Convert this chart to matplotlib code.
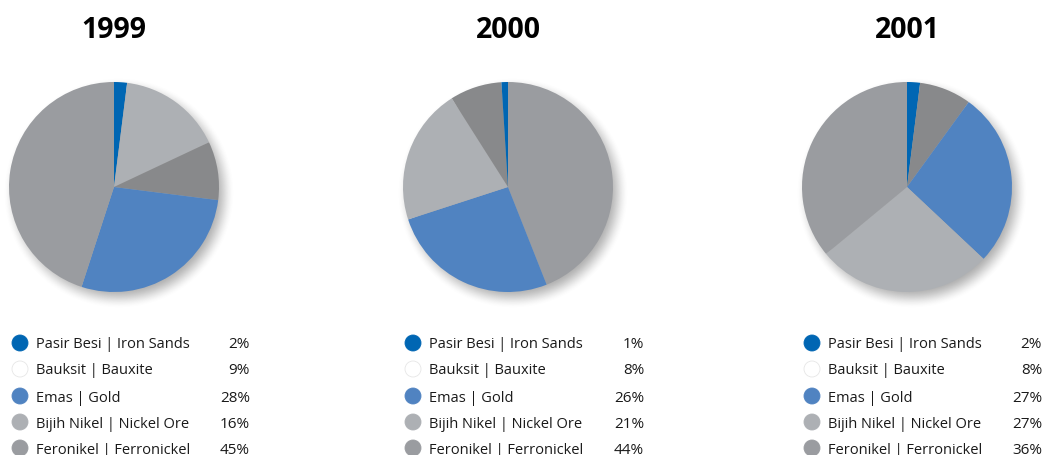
import numpy as np
import matplotlib
matplotlib.use("Agg")
import matplotlib.pyplot as plt
from matplotlib.patches import Circle

plt.rcParams['font.family'] = ['Open Sans', 'DejaVu Sans']

years = ['1999', '2000', '2001']
labels = ['Pasir Besi | Iron Sands', 'Bauksit | Bauxite', 'Emas | Gold',
          'Bijih Nikel | Nickel Ore', 'Feronikel | Ferronickel']
share_1999 = [2, 9, 28, 16, 45]
share_2000 = [1, 8, 26, 21, 44]
share_2001 = [2, 8, 27, 27, 36]
shares = [share_1999, share_2000, share_2001]

# clockwise wedge order from 12 o'clock, as indices into labels
wedge_order = [[0, 3, 1, 2, 4], [4, 2, 3, 1, 0], [0, 1, 2, 3, 4]]

slice_colors = ['#0066b3', '#88898b', '#5083c1', '#adb0b4', '#9a9ca0']
legend_colors = ['#0066b3', '#ffffff', '#5083c1', '#adb0b4', '#9a9ca0']

W, H = 1045, 455
fig = plt.figure(figsize=(W / 100, H / 100), dpi=100)
ax = fig.add_axes([0, 0, 1, 1])

centers_x = [114, 508, 907]
center_y = H - 187
radius = 105
legend_x = [20, 413, 812]
pct_x = [250, 644, 1042]
row_y = [343, 369, 396, 422, 448]


def soft_shadow(ax, cx, cy, r):
    # blurred disc offset down-right
    n = 300
    ext = r + 35
    xs = np.linspace(cx - ext, cx + ext, n)
    ys = np.linspace(cy - ext, cy + ext, n)
    gx, gy = np.meshgrid(xs, ys)
    d = np.hypot(gx - (cx + 5), gy - (cy - 6))
    a = np.clip((r + 11 - d) / 22, 0, 1)
    a = a * a * (3 - 2 * a) * 0.5
    img = np.zeros((n, n, 4))
    img[..., :3] = 0.35
    img[..., 3] = a
    ax.imshow(img, extent=(cx - ext, cx + ext, cy - ext, cy + ext),
              origin='lower', interpolation='bilinear', zorder=1)


for k, year in enumerate(years):
    cx = centers_x[k]
    soft_shadow(ax, cx, center_y, radius)
    order = wedge_order[k]
    vals = [shares[k][i] for i in order]
    cols = [slice_colors[i] for i in order]
    wedges, _ = ax.pie(vals, colors=cols, startangle=90, counterclock=False,
                       center=(cx, center_y), radius=radius,
                       wedgeprops=dict(linewidth=0))
    for w in wedges:
        w.set_zorder(2)

    ax.text(cx, H - 30, year, ha='center', va='center', fontsize=20.5,
            fontweight='bold', color='#000000')

    for j, lab in enumerate(labels):
        y = H - row_y[j]
        ec = '#e6e6e6' if legend_colors[j] == '#ffffff' else legend_colors[j]
        ax.add_patch(Circle((legend_x[k], y), 8, facecolor=legend_colors[j],
                            edgecolor=ec, linewidth=0.6, zorder=3))
        ax.text(legend_x[k] + 16, y - 2, lab, ha='left', va='center',
                fontsize=10.5, color='#1a1a1a')
        ax.text(pct_x[k], y - 2, f'{shares[k][j]}%', ha='right', va='center',
                fontsize=11, color='#1a1a1a')

ax.set_xlim(0, W)
ax.set_ylim(0, H)
ax.set_aspect('auto')
ax.axis('off')

fig.savefig('out.png', dpi=100)
